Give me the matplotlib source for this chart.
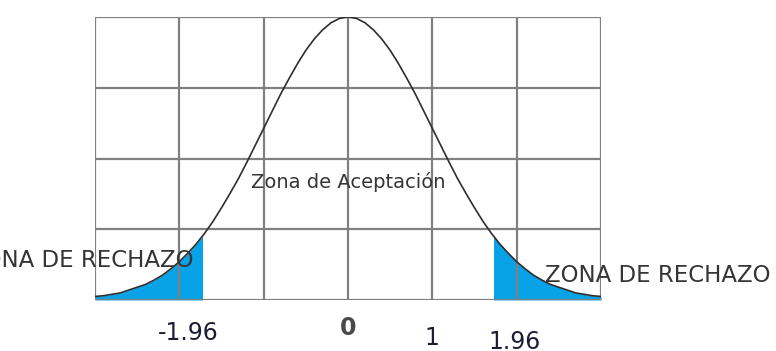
import numpy as np
import matplotlib
matplotlib.use("Agg")
import matplotlib.pyplot as plt
from matplotlib.patches import Rectangle

# ------------- values ---------------------------------------
# z positions and curve height (density) along the bell curve
z = [-3.0, -2.9, -2.8, -2.7, -2.6, -2.5, -2.4, -2.3, -2.2, -2.1,
     -2.0, -1.9, -1.8, -1.7, -1.6, -1.5, -1.4, -1.3, -1.2, -1.1,
     -1.0, -0.9, -0.8, -0.7, -0.6, -0.5, -0.4, -0.3, -0.2, -0.1,
     0.0, 0.1, 0.2, 0.3, 0.4, 0.5, 0.6, 0.7, 0.8, 0.9,
     1.0, 1.1, 1.2, 1.3, 1.4, 1.5, 1.6, 1.7, 1.8, 1.9,
     2.0, 2.1, 2.2, 2.3, 2.4, 2.5, 2.6, 2.7, 2.8, 2.9, 3.0]
density = [0.005, 0.006, 0.008, 0.010, 0.014, 0.018, 0.022, 0.028, 0.035, 0.044,
           0.054, 0.066, 0.079, 0.094, 0.111, 0.130, 0.150, 0.171, 0.194, 0.218,
           0.242, 0.266, 0.290, 0.312, 0.333, 0.352, 0.368, 0.381, 0.391, 0.397,
           0.399, 0.397, 0.391, 0.381, 0.368, 0.352, 0.333, 0.312, 0.290, 0.266,
           0.242, 0.218, 0.194, 0.171, 0.150, 0.130, 0.111, 0.094, 0.079, 0.066,
           0.054, 0.044, 0.035, 0.028, 0.022, 0.018, 0.014, 0.010, 0.008, 0.006, 0.005]
# where the shaded rejection tails start (as drawn)
reject_left = -1.73
reject_right = 1.73
tick_pos = [-1.89, 0, 1.0, 1.97]
tick_labels = ["-1.96", "0", "1", "1.96"]
accept_label = "Zona de Aceptación"
reject_label = "ZONA DE RECHAZO"
# -------------------------------------------------------------

grey = "#808080"
blue = "#08a2e6"
txt = "#353535"

fig = plt.figure(figsize=(7.76, 3.51), dpi=100)
ax = fig.add_axes([95 / 776, 1 - 300 / 351, 506 / 776, 283 / 351])

x = np.array(z)
y = np.array(density)
ymax = max(density)

# tails
for lo, hi in [(-3, reject_left), (reject_right, 3)]:
    poly = ax.fill_between(x, 0, y, color=blue, lw=0, zorder=1)
    rect = Rectangle((lo, 0), hi - lo, 1, transform=ax.transData)
    poly.set_clip_path(rect)

# grid, drawn by hand so the outer border matches
for gx in range(-3, 4):
    ax.axvline(gx, color=grey, lw=1.6, zorder=2)
for k in range(5):
    ax.axhline(ymax * k / 4, color=grey, lw=1.6, zorder=2)

ax.plot(x, y, color="#2e2e2e", lw=1.2, zorder=3)

ax.set_xlim(-3, 3)
ax.set_ylim(0, ymax)
ax.axis("off")

ax.text(0, 0.417, accept_label, transform=ax.get_xaxis_transform(),
        ha="center", va="center", fontsize=14, color=txt, zorder=4)
ax.text(0.194, 0.141, reject_label, transform=ax.transAxes, ha="right", va="center",
        fontsize=16.5, color=txt, zorder=4, clip_on=False)
ax.text(0.889, 0.088, reject_label, transform=ax.transAxes, ha="left", va="center",
        fontsize=16.5, color=txt, zorder=4, clip_on=False)

tick_y = [-0.117, -0.099, -0.134, -0.148]
tick_col = ["#1c1c34", "#4a4a4a", "#1c1c34", "#1c1c34"]
for p, lab, ty, c in zip(tick_pos, tick_labels, tick_y, tick_col):
    ax.text(p, ty, lab, transform=ax.get_xaxis_transform(), ha="center", va="center",
            fontsize=17, color=c, clip_on=False,
            fontweight="bold" if lab == "0" else "normal")

fig.savefig("out.png", dpi=100)
